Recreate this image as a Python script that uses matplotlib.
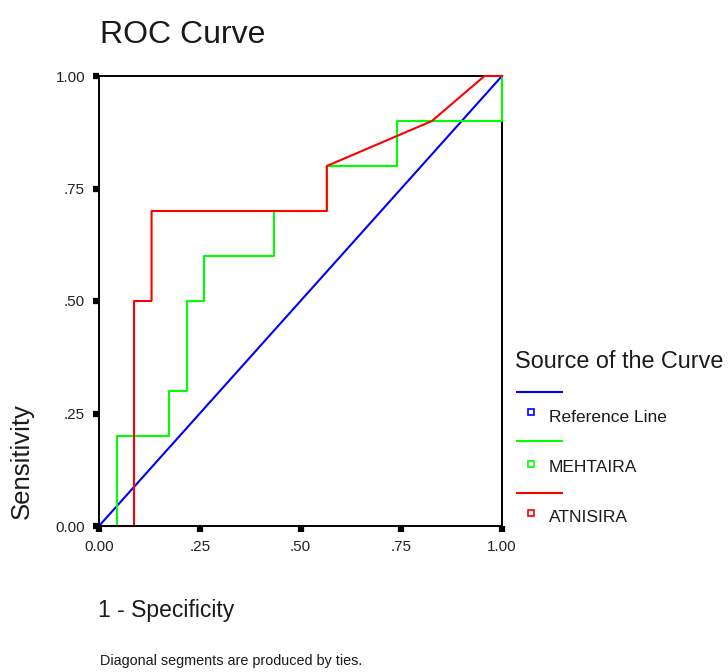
import matplotlib.pyplot as plt
from matplotlib.lines import Line2D
from matplotlib.patches import Rectangle

plt.rcParams['font.family'] = ['Liberation Sans', 'DejaVu Sans']

# ROC coordinates (1 - specificity, sensitivity); 23 negatives, 10 positives
n_neg = 23
mehtaira_fpr = [0, 1, 1, 4, 4, 5, 5, 6, 6, 10, 10, 13, 13, 17, 17, 23, 23]
mehtaira_tpr = [0, 0, .2, .2, .3, .3, .5, .5, .6, .6, .7, .7, .8, .8, .9, .9, 1.0]
atnisira_fpr = [0, 2, 2, 3, 3, 13, 13, 19, 22, 23]
atnisira_tpr = [0, 0, .5, .5, .7, .7, .8, .9, 1.0, 1.0]
ref_line = [0, 1]

tick_vals = [0, .25, .5, .75, 1.0]
tick_labels = ["0.00", ".25", ".50", ".75", "1.00"]

W, H = 728, 672
fig = plt.figure(figsize=(W / 100, H / 100), dpi=100)
ax = fig.add_axes([99 / W, 1 - 526 / H, 403 / W, 450 / H])

# curves sit above the top/right frame so the edges at x=1 / y=1 stay visible
ax.plot(ref_line, ref_line, color='#0000ff', lw=1.5, zorder=3, clip_on=False)
ax.plot([v / n_neg for v in mehtaira_fpr], mehtaira_tpr, color='#00ff00',
        lw=1.5, zorder=3, clip_on=False)
ax.plot([v / n_neg for v in atnisira_fpr], atnisira_tpr, color='#ff0000',
        lw=1.5, zorder=3, clip_on=False)

ax.set_xlim(0, 1)
ax.set_ylim(0, 1)
ax.set_xticks(tick_vals)
ax.set_xticklabels(tick_labels)
ax.set_yticks(tick_vals)
ax.set_yticklabels(tick_labels)
ax.tick_params(direction='out', length=4, width=4.5, color='black',
               labelsize=11, labelcolor='#222222', pad=6)
for s in ax.spines.values():
    s.set_linewidth(1.4)
    s.set_color('black')
ax.spines['bottom'].set_zorder(4)
ax.spines['left'].set_zorder(4)

txt = '#1a1a1a'
fig.text(100 / W, 1 - 35 / H, "ROC Curve", fontsize=23, color=txt, va='center')
fig.text(22 / W, 1 - 461 / H, "Sensitivity", fontsize=18.5, color=txt,
         rotation=90, ha='center', va='center')
fig.text(98 / W, 1 - 611 / H, "1 - Specificity", fontsize=16.5, color=txt, va='center')
fig.text(100 / W, 1 - 661 / H, "Diagonal segments are produced by ties.",
         fontsize=10.4, color=txt, va='center')

# legend block
fig.text(515 / W, 1 - 361 / H, "Source of the Curve", fontsize=16.8, color=txt, va='center')
entries = [("Reference Line", '#0000ff', 392, 412, 417),
           ("MEHTAIRA", '#00ff00', 441, 464, 468),
           ("ATNISIRA", '#ff0000', 493, 513, 517)]
for label, col, ly, sy, ty in entries:
    fig.add_artist(Line2D([517 / W, 562 / W], [1 - ly / H, 1 - ly / H],
                          color=col, lw=1.5, transform=fig.transFigure))
    fig.add_artist(Rectangle(((531 - 3) / W, 1 - (sy + 3) / H), 6 / W, 6 / H,
                             facecolor='white', edgecolor=col, lw=1.2,
                             transform=fig.transFigure))
    fig.text(549 / W, 1 - ty / H, label, fontsize=12.5, color=txt, va='center')

fig.savefig("out.png", dpi=100)
